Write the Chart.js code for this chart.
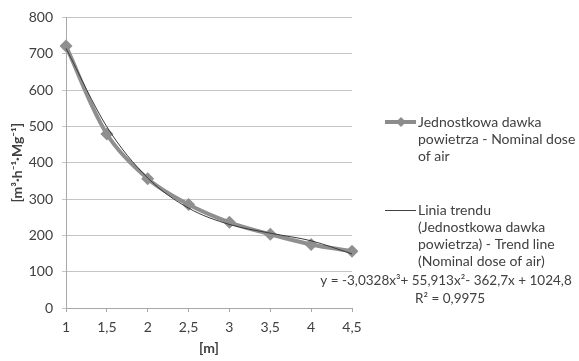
<!DOCTYPE html>
<html>
<head>
<meta charset="utf-8">
<script src="https://cdn.jsdelivr.net/npm/chart.js@4/dist/chart.umd.min.js"></script>
<style>
  html, body { margin: 0; padding: 0; background: #fff; }
  #wrap { width: 579px; height: 361px; position: relative; }
</style>
</head>
<body>
<div id="wrap"><canvas id="myChart" width="579" height="361"></canvas></div>
<script>
// distance [m]
const odleglosc = ['1', '1,5', '2', '2,5', '3', '3,5', '4', '4,5'];
// nominal dose of air
const dawka = [721, 479, 356, 285, 236, 203, 175, 156];
// trend line (polynomial fit)
const trend = [715, 499, 358, 275, 230, 206, 185, 149];

const yTicks = [0, 100, 200, 300, 400, 500, 600, 700, 800];

const legendText1 = ['Jednostkowa dawka', 'powietrza - Nominal dose', 'of air'];
const legendText2 = ['Linia trendu', '(Jednostkowa dawka', 'powietrza) - Trend line', '(Nominal dose of air)'];
const equation = 'y = -3,0328x³+ 55,913x²- 362,7x + 1024,8';
const rSquared = 'R² = 0,9975';

const FONT = 'Lato';
const TXT = '#404040';

// legend + equation drawn by hand, excel style
const sideText = {
    id: 'sideText',
    afterDraw(chart) {
        const ctx = chart.ctx;
        ctx.save();
        ctx.font = '14px ' + FONT;
        ctx.textBaseline = 'middle';
        ctx.textAlign = 'left';

        // series 1 entry
        ctx.strokeStyle = '#8c8c8c';
        ctx.lineWidth = 4;
        ctx.beginPath();
        ctx.moveTo(385, 122);
        ctx.lineTo(416, 122);
        ctx.stroke();
        ctx.fillStyle = '#8c8c8c';
        ctx.beginPath();
        ctx.moveTo(401, 117);
        ctx.lineTo(406, 122);
        ctx.lineTo(401, 127);
        ctx.lineTo(396, 122);
        ctx.closePath();
        ctx.fill();

        ctx.fillStyle = TXT;
        for (var i = 0; i < legendText1.length; i++) {
            ctx.fillText(legendText1[i], 418, 122 + i * 17);
        }

        // trend entry
        ctx.strokeStyle = '#404040';
        ctx.lineWidth = 1;
        ctx.beginPath();
        ctx.moveTo(385, 210.5);
        ctx.lineTo(416, 210.5);
        ctx.stroke();
        for (var j = 0; j < legendText2.length; j++) {
            ctx.fillText(legendText2[j], 418, 210 + j * 17);
        }

        ctx.font = '13.5px ' + FONT;
        ctx.textAlign = 'center';
        ctx.fillText(equation, 446, 281);
        ctx.fillText(rSquared, 450, 299);
        ctx.restore();
    }
};

new Chart('myChart', {
    type: 'line',
    data: {
        labels: odleglosc,
        datasets: [
            {
                label: 'Jednostkowa dawka powietrza - Nominal dose of air',
                data: dawka,
                borderColor: '#8f8f8f',
                backgroundColor: '#8f8f8f',
                borderWidth: 4,
                pointStyle: 'rectRot',
                pointRadius: 6.5,
                pointHoverRadius: 6.5,
                pointBorderWidth: 0,
                tension: 0.35,
                order: 2
            },
            {
                label: 'Linia trendu',
                data: trend,
                borderColor: '#3a3a3a',
                borderWidth: 1,
                pointRadius: 0,
                cubicInterpolationMode: 'monotone',
                order: 1
            }
        ]
    },
    options: {
        responsive: false,
        animation: false,
        layout: { padding: { top: 11, right: 227, left: 8, bottom: 4 } },
        plugins: {
            legend: { display: false },
            tooltip: { enabled: false }
        },
        scales: {
            x: {
                offset: false,
                grid: { display: true, drawOnChartArea: false, drawTicks: true, tickLength: 4, color: '#a8a8a8' },
                border: { color: '#a8a8a8' },
                ticks: { color: TXT, font: { family: FONT, size: 14 }, maxRotation: 0, padding: 7 },
                title: { display: true, text: '[m]', color: TXT, font: { family: FONT, size: 14, weight: 'bold' }, padding: { top: 0, bottom: 0 } },
                afterFit: function (s) { s.height = 361 - 308 - 4; }
            },
            y: {
                min: 0,
                max: 800,
                afterBuildTicks: function (s) { s.ticks = yTicks.map(function (v) { return { value: v }; }); },
                grid: { color: '#c4c4c4', tickLength: 4 },
                border: { color: '#a8a8a8' },
                ticks: { color: TXT, font: { family: FONT, size: 14 }, padding: 9 },
                title: { display: true, text: '[m³·h⁻¹·Mg⁻¹]', color: TXT, font: { family: FONT, size: 14, weight: 'bold' }, padding: 1 },
                afterFit: function (s) { s.width = 66 - 8; }
            }
        }
    },
    plugins: [sideText]
});
</script>
</body>
</html>
